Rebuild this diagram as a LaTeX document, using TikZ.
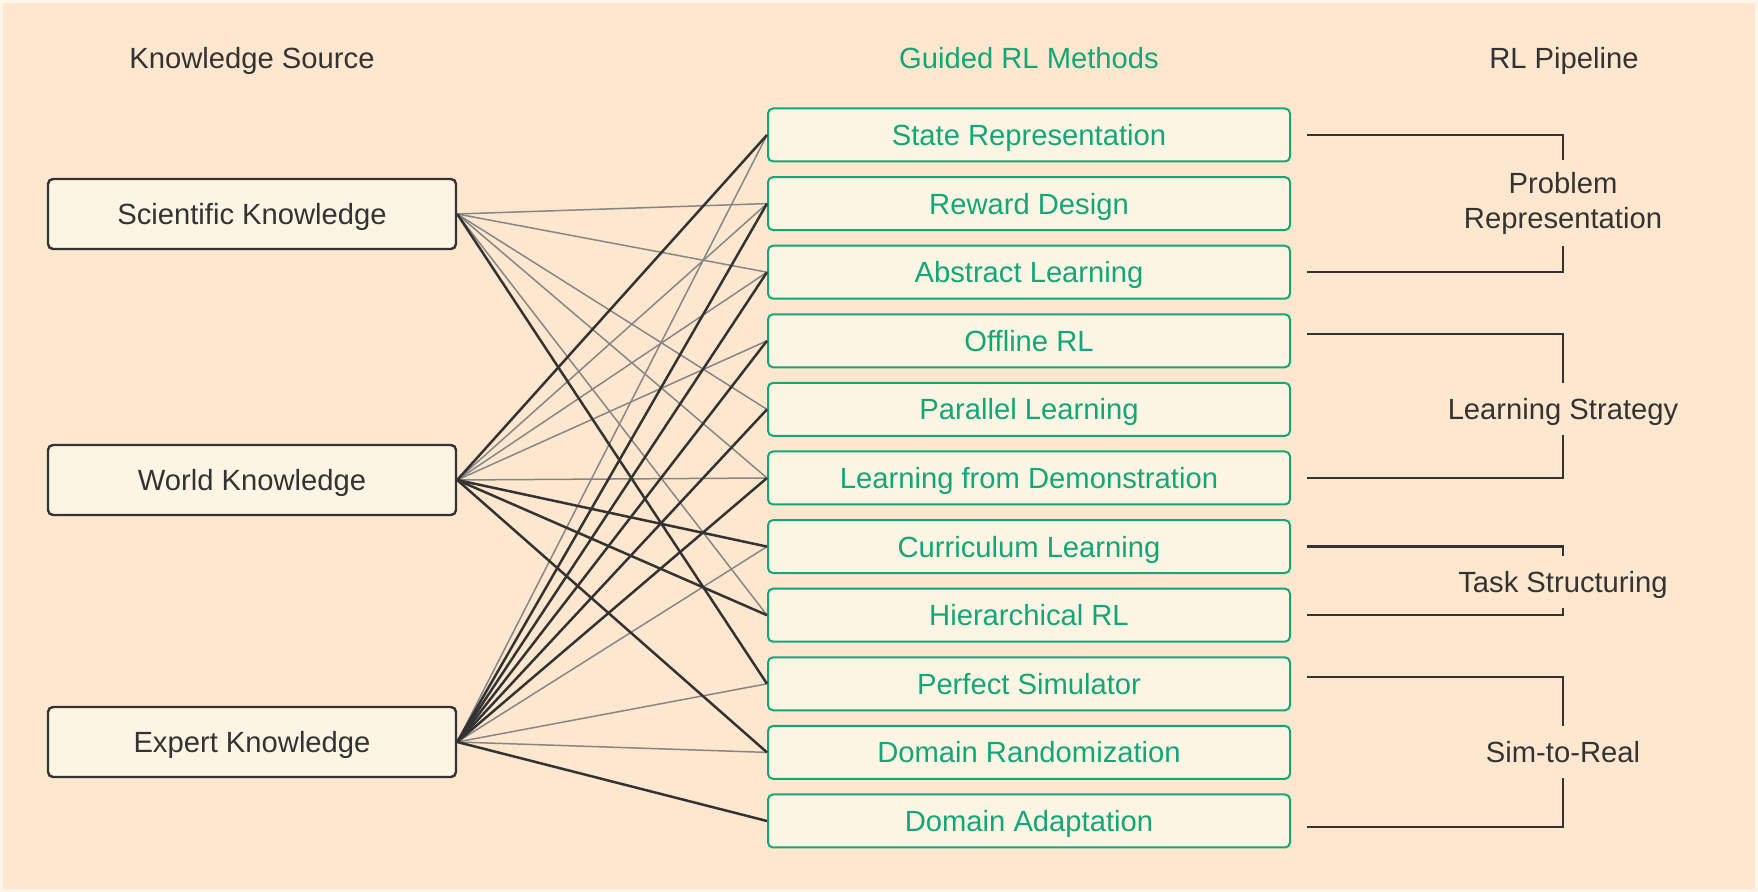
\documentclass[tikz,border=0pt]{standalone}
\usepackage{fontspec}
\setmainfont{Liberation Sans}
\usetikzlibrary{positioning}
\definecolor{bgpeach}{HTML}{FDE8CF}
\definecolor{bgedge}{HTML}{FDF5EA}
\definecolor{boxfill}{HTML}{FDF5E3}
\definecolor{methodgreen}{HTML}{12A678}
\definecolor{inkdark}{HTML}{333333}
\definecolor{linkgray}{HTML}{868686}

\begin{document}
\begin{tikzpicture}[
    x=0.5pt, y=-0.5pt,
    every node/.style={font=\fontsize{14.6}{17.5}\selectfont, text=inkdark,
                       text height=10.6pt, text depth=0pt},
    source/.style={draw=inkdark, line width=1.2pt, rounded corners=2.5pt, fill=boxfill,
                   minimum width=204pt, minimum height=35pt},
    method/.style={draw=methodgreen, line width=1pt, rounded corners=2.5pt, fill=boxfill,
                   text=methodgreen, minimum width=261pt, minimum height=26.5pt},
    stage/.style={align=center, inner sep=0pt, minimum height=26pt},
    weak/.style={linkgray, line width=0.75pt},
    strong/.style={inkdark, line width=1.25pt},
    brk/.style={inkdark, line width=1.2pt},
    node distance=6.8pt
  ]
    \fill[bgedge] (0,0) rectangle (1758,892);
    \fill[bgpeach] (3,3) rectangle (1755,889);
    \useasboundingbox (0,0) rectangle (1758,892);

    \node (srchead) at (252,58) {Knowledge Source};
    \node[text=methodgreen] (methhead) at (1029,58) {Guided RL Methods};
    \node (pipehead) at (1564,58) {RL Pipeline};

    \node[source] (sci) at (252,214) {Scientific Knowledge};
    \node[source] (world) at (252,480) {World Knowledge};
    \node[source] (expert) at (252,742) {Expert Knowledge};

    \node[method] (state) at (1029,135) {State Representation};
    \node[method,below=of state] (reward) {Reward Design};
    \node[method,below=of reward] (abstract) {Abstract Learning};
    \node[method,below=of abstract] (offline) {Offline RL};
    \node[method,below=of offline] (parallel) {Parallel Learning};
    \node[method,below=of parallel] (demo) {Learning from Demonstration};
    \node[method,below=of demo] (curric) {Curriculum Learning};
    \node[method,below=of curric] (hier) {Hierarchical RL};
    \node[method,below=of hier] (perfect) {Perfect Simulator};
    \node[method,below=of perfect] (domrand) {Domain Randomization};
    \node[method,below=of domrand] (domadapt) {Domain Adaptation};

    \foreach \a/\b in {sci/reward, sci/abstract, sci/parallel, sci/demo, sci/hier,
                       world/reward, world/abstract, world/offline, world/demo,
                       expert/state, expert/curric, expert/perfect, expert/domrand}
      \draw[weak] (\a.east) -- (\b.west);
    \foreach \a/\b in {sci/perfect, world/state, world/curric, world/hier, world/domrand,
                       expert/reward, expert/abstract, expert/offline, expert/parallel,
                       expert/demo, expert/domadapt}
      \draw[strong] (\a.east) -- (\b.west);

    \node[stage, minimum height=43pt, text height={}, text depth={}] (probrep)
      at (1563,203) {Problem\\Representation};
    \node[stage] (learnstrat) at (1563,409) {Learning Strategy};
    \node[stage] (taskstruct) at (1563,582) {Task Structuring};
    \node[stage] (simreal) at (1563,752) {Sim-to-Real};

    \draw[brk] ([xshift=8pt]state.east) -| (probrep.north);
    \draw[brk] ([xshift=8pt]abstract.east) -| (probrep.south);
    \draw[brk] ([xshift=8pt,yshift=3.5pt]offline.east) -| (learnstrat.north);
    \draw[brk] ([xshift=8pt]demo.east) -| (learnstrat.south);
    \draw[brk] ([xshift=8pt]curric.east) -| (taskstruct.north);
    \draw[brk] ([xshift=8pt]hier.east) -| (taskstruct.south);
    \draw[brk] ([xshift=8pt,yshift=3.5pt]perfect.east) -| (simreal.north);
    \draw[brk] ([xshift=8pt,yshift=-3pt]domadapt.east) -| (simreal.south);
  \end{tikzpicture}
\end{document}
